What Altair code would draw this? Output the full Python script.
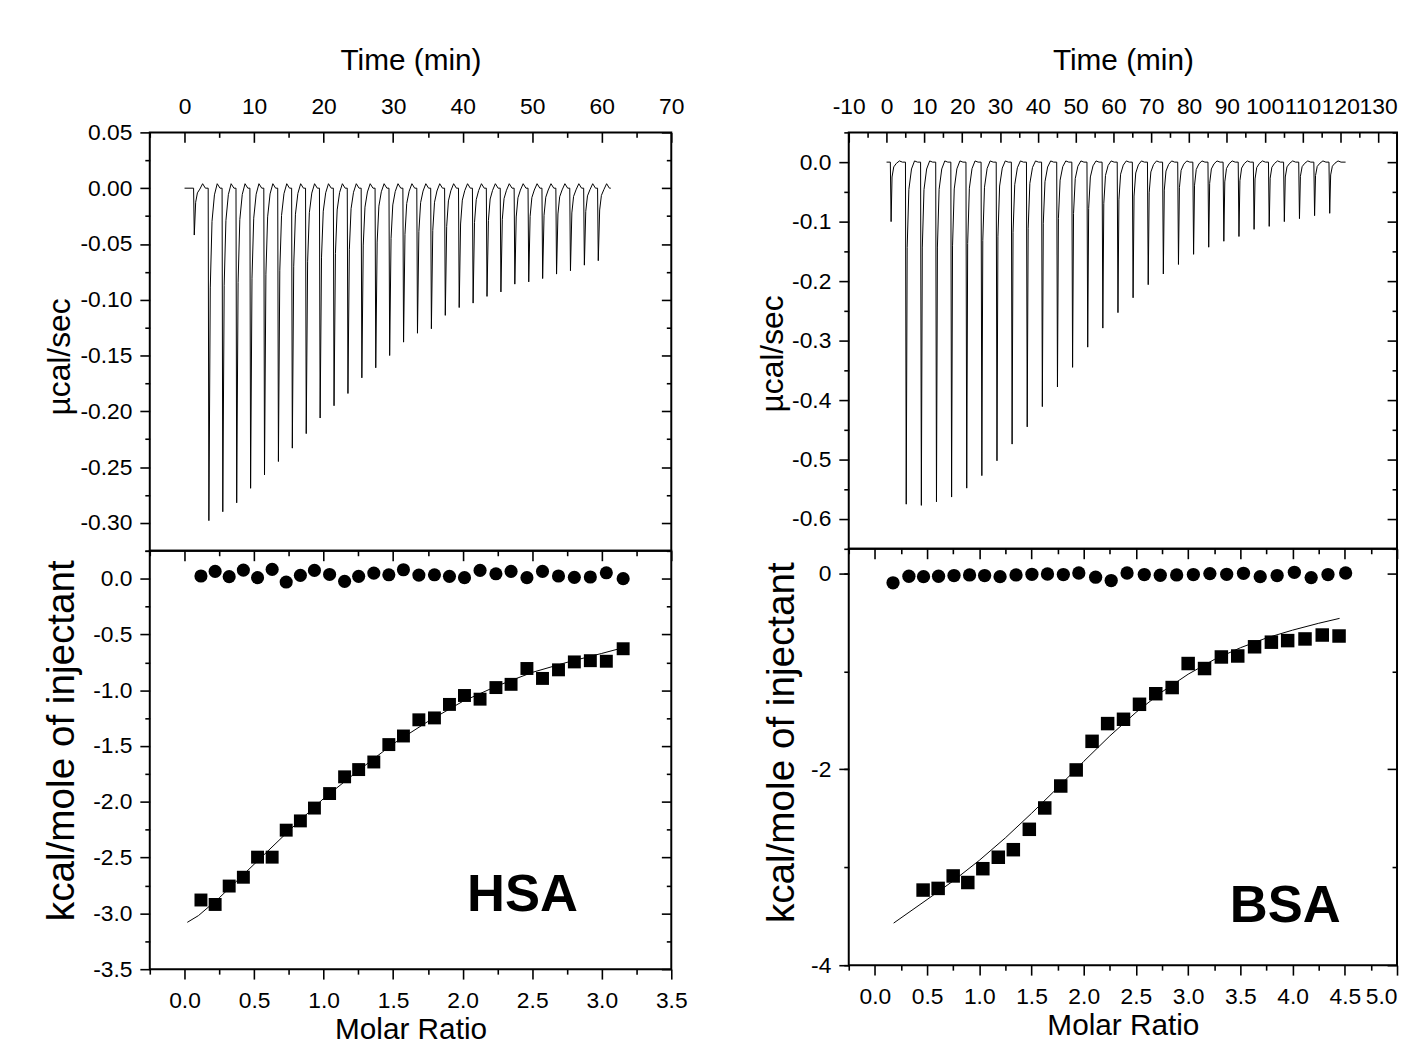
import altair as alt
import pandas as pd

FONT = "Liberation Sans"
MINUS = "\u2212"

# ---------------- data ----------------
# HSA raw thermogram: injection times (min) and peak heights (ucal/sec)
hsa_inj_time = [1.3, 3.4, 5.4, 7.4, 9.4, 11.4, 13.4, 15.4, 17.4, 19.4, 21.4, 23.4, 25.4,
                27.4, 29.4, 31.4, 33.4, 35.4, 37.4, 39.4, 41.4, 43.4, 45.4, 47.4, 49.4,
                51.4, 53.4, 55.4, 57.4, 59.4]
hsa_peak = [-0.042, -0.298, -0.290, -0.282, -0.269, -0.257, -0.245, -0.233, -0.220, -0.206,
            -0.195, -0.184, -0.170, -0.161, -0.150, -0.138, -0.130, -0.126, -0.114, -0.107,
            -0.103, -0.097, -0.093, -0.086, -0.084, -0.081, -0.077, -0.074, -0.069, -0.065]
hsa_trace_start, hsa_trace_end, hsa_overshoot = 0.0, 61.3, 0.004

# BSA raw thermogram
bsa_inj_time = [1.0, 5.0, 9.0, 13.0, 17.0, 21.0, 25.0, 29.0, 33.0, 37.0, 41.0, 45.0, 49.0,
                53.0, 57.0, 61.0, 65.0, 69.0, 73.0, 77.0, 81.0, 85.0, 89.0, 93.0, 97.0,
                101.0, 105.0, 109.0, 113.0, 117.0]
bsa_peak = [-0.100, -0.575, -0.577, -0.571, -0.563, -0.548, -0.527, -0.502, -0.474, -0.445,
            -0.411, -0.378, -0.345, -0.311, -0.279, -0.253, -0.228, -0.206, -0.188, -0.172,
            -0.155, -0.143, -0.133, -0.125, -0.113, -0.108, -0.100, -0.095, -0.090, -0.086]
bsa_trace_start, bsa_trace_end, bsa_overshoot = 0.0, 121.4, 0.002

# HSA integrated heats
hsa_ratio = [0.118, 0.220, 0.321, 0.423, 0.525, 0.630, 0.731, 0.833, 0.934, 1.043, 1.151,
             1.252, 1.361, 1.469, 1.574, 1.685, 1.797, 1.905, 2.013, 2.125, 2.239, 2.348,
             2.462, 2.574, 2.689, 2.803, 2.918, 3.033, 3.154]
hsa_heat = [-2.880, -2.920, -2.755, -2.676, -2.496, -2.496, -2.254, -2.171, -2.056, -1.926,
            -1.776, -1.711, -1.643, -1.487, -1.410, -1.265, -1.248, -1.127, -1.047, -1.080,
            -0.976, -0.947, -0.805, -0.894, -0.817, -0.746, -0.735, -0.740, -0.628]
hsa_blank = [0.024, 0.065, 0.018, 0.077, 0.009, 0.083, -0.030, 0.030, 0.074, 0.038, -0.024,
             0.021, 0.050, 0.035, 0.080, 0.032, 0.035, 0.021, 0.009, 0.074, 0.044, 0.065,
             0.009, 0.065, 0.024, 0.012, 0.015, 0.053, 0.000]
hsa_fit_x = [0.02, 0.10, 0.25, 0.50, 0.75, 1.00, 1.25, 1.50, 1.75, 2.00, 2.25, 2.50, 2.75, 3.00, 3.15]
hsa_fit_y = [-3.08, -3.02, -2.86, -2.56, -2.26, -1.97, -1.72, -1.48, -1.28, -1.10, -0.96,
             -0.84, -0.75, -0.67, -0.62]

# BSA integrated heats
bsa_blank_ratio = [0.174, 0.326, 0.466, 0.610, 0.758, 0.907, 1.051, 1.199, 1.352, 1.504,
                   1.653, 1.805, 1.953, 2.114, 2.263, 2.415, 2.580, 2.733, 2.890, 3.050,
                   3.208, 3.369, 3.530, 3.690, 3.852, 4.017, 4.178, 4.339, 4.508]
bsa_blank = [-0.097, -0.030, -0.034, -0.030, -0.023, -0.017, -0.023, -0.034, -0.017, -0.010,
             -0.007, -0.013, 0.003, -0.040, -0.074, 0.003, -0.013, -0.020, -0.017, -0.013,
             -0.003, -0.010, 0.000, -0.034, -0.023, 0.010, -0.044, -0.013, 0.003]
bsa_ratio = [0.462, 0.606, 0.750, 0.890, 1.034, 1.182, 1.326, 1.479, 1.627, 1.780, 1.928,
             2.080, 2.229, 2.381, 2.534, 2.690, 2.847, 3.000, 3.157, 3.318, 3.475, 3.636,
             3.797, 3.953, 4.119, 4.284, 4.445]
bsa_heat = [-3.233, -3.216, -3.089, -3.156, -3.015, -2.898, -2.821, -2.613, -2.395, -2.171,
            -2.007, -1.715, -1.534, -1.490, -1.337, -1.229, -1.166, -0.921, -0.972, -0.854,
            -0.844, -0.750, -0.703, -0.687, -0.670, -0.630, -0.640]
bsa_fit_x = [0.18, 0.50, 0.75, 1.00, 1.25, 1.50, 1.75, 2.00, 2.25, 2.50, 2.75, 3.00, 3.25,
             3.50, 3.75, 4.00, 4.25, 4.45]
bsa_fit_y = [-3.57, -3.33, -3.14, -2.93, -2.70, -2.45, -2.19, -1.92, -1.66, -1.42, -1.21,
             -1.03, -0.88, -0.76, -0.66, -0.58, -0.51, -0.46]

# panel labels
hsa_label = {"x": [2.43], "y": [-2.84], "t": ["HSA"]}
bsa_label = {"x": [3.93], "y": [-3.40], "t": ["BSA"]}

# axis tick values
hsa_time_major = [0, 10, 20, 30, 40, 50, 60, 70]
hsa_time_minor = [-5, 5, 15, 25, 35, 45, 55, 65]
bsa_time_major = [-10, 0, 10, 20, 30, 40, 50, 60, 70, 80, 90, 100, 110, 120, 130]
bsa_time_minor = [-5, 5, 15, 25, 35, 45, 55, 65, 75, 85, 95, 105, 115, 125]
hsa_ratio_major = [0.0, 0.5, 1.0, 1.5, 2.0, 2.5, 3.0, 3.5]
hsa_ratio_minor = [-0.25, 0.25, 0.75, 1.25, 1.75, 2.25, 2.75, 3.25]
bsa_ratio_major = [0.0, 0.5, 1.0, 1.5, 2.0, 2.5, 3.0, 3.5, 4.0, 4.5, 5.0]
bsa_ratio_minor = [-0.25, 0.25, 0.75, 1.25, 1.75, 2.25, 2.75, 3.25, 3.75, 4.25, 4.75]
hsa_power_major = [0.05, 0.0, -0.05, -0.10, -0.15, -0.20, -0.25, -0.30]
hsa_power_minor = [0.025, -0.025, -0.075, -0.125, -0.175, -0.225, -0.275, -0.325]
bsa_power_major = [0.0, -0.1, -0.2, -0.3, -0.4, -0.5, -0.6]
bsa_power_minor = [0.05, -0.05, -0.15, -0.25, -0.35, -0.45, -0.55, -0.65]
hsa_heat_major = [0.0, -0.5, -1.0, -1.5, -2.0, -2.5, -3.0, -3.5]
hsa_heat_minor = [0.25, -0.25, -0.75, -1.25, -1.75, -2.25, -2.75, -3.25]
bsa_heat_major = [0, -2, -4]
bsa_heat_minor = [-1, -3]

# ---------------- helpers ----------------
def trace_frame(times, peaks, start, end, offs, fracs, over, over_t, end_t):
    xs, ys = [start], [0.0]
    for t, p in zip(times, peaks):
        for o, f in zip(offs, fracs):
            xs.append(t + o)
            ys.append(p * f)
        xs.append(t + over_t)
        ys.append(over)
        xs.append(t + end_t)
        ys.append(0.0)
    xs.append(end)
    ys.append(0.0)
    return pd.DataFrame({"x": xs, "y": ys, "i": list(range(len(xs)))})


def lab(fmt):
    return f"replace(format(datum.value, '{fmt}'), '{MINUS}', '-')"


def tick_axis(orient, values, size):
    # size > 0 : outward, size < 0 : inward
    return alt.Axis(orient=orient, values=values, labels=False, title=None, domain=False,
                    grid=False, ticks=True, tickSize=alt.ExprRef(expr=str(size)),
                    tickColor="black", tickWidth=1.6)


def label_axis(orient, values, fmt, title, tick, label_pad, title_pad, title_size,
               title_y=None, ticks=True, flush=False):
    kw = dict(orient=orient, values=values, labelExpr=lab(fmt), title=title, domain=False,
              grid=False, ticks=ticks, tickSize=tick, tickColor="black", tickWidth=1.6,
              labelPadding=label_pad, titlePadding=title_pad, labelFont=FONT,
              labelFontSize=23, labelColor="black", titleFont=FONT,
              titleFontSize=title_size, titleFontWeight="normal", titleColor="black",
              labelOverlap=False, labelFlush=flush, labelBound=False)
    if title_y is not None:
        kw["titleY"] = title_y
    return alt.Axis(**kw)


def panel(df, xdom, ydom, x_axes, y_axes, data_layers, w, h):
    xs = alt.Scale(domain=xdom, nice=False, zero=False)
    ys = alt.Scale(domain=ydom, nice=False, zero=False)
    layers = []
    for xa, ya in zip(x_axes, y_axes):
        layers.append(
            alt.Chart(df).mark_point(opacity=0).encode(
                x=alt.X("x:Q", scale=xs, axis=xa),
                y=alt.Y("y:Q", scale=ys, axis=ya),
            )
        )
    for ch in data_layers:
        layers.append(ch(xs, ys))
    return alt.layer(*layers).resolve_axis(x="independent", y="independent").properties(
        width=w, height=h)


def line_layer(df, width=1.0):
    def f(xs, ys):
        return alt.Chart(df).mark_line(color="black", strokeWidth=width).encode(
            x=alt.X("x:Q", scale=xs, axis=None),
            y=alt.Y("y:Q", scale=ys, axis=None),
            order="i:Q",
        )
    return f


def point_layer(df, shape, size):
    def f(xs, ys):
        return alt.Chart(df).mark_point(shape=shape, filled=True, size=size, color="black",
                                        opacity=1).encode(
            x=alt.X("x:Q", scale=xs, axis=None),
            y=alt.Y("y:Q", scale=ys, axis=None),
        )
    return f


def text_layer(df):
    def f(xs, ys):
        return alt.Chart(df).mark_text(font=FONT, fontSize=53, fontWeight="bold",
                                       color="black", align="center",
                                       baseline="middle").encode(
            x=alt.X("x:Q", scale=xs, axis=None),
            y=alt.Y("y:Q", scale=ys, axis=None),
            text="t:N",
        )
    return f


# ---------------- data frames ----------------
hsa_trace = trace_frame(hsa_inj_time, hsa_peak, hsa_trace_start, hsa_trace_end,
                        [0.0, 0.1, 0.3, 0.55, 0.9], [0.0, 1.0, 0.3, 0.1, 0.02],
                        hsa_overshoot, 1.3, 1.7)
bsa_trace = trace_frame(bsa_inj_time, bsa_peak, bsa_trace_start, bsa_trace_end,
                        [0.0, 0.2, 0.45, 0.9, 1.6], [0.0, 1.0, 0.25, 0.08, 0.02],
                        bsa_overshoot, 2.4, 3.2)
hsa_sq = pd.DataFrame({"x": hsa_ratio, "y": hsa_heat})
hsa_ci = pd.DataFrame({"x": hsa_ratio, "y": hsa_blank})
hsa_fit = pd.DataFrame({"x": hsa_fit_x, "y": hsa_fit_y, "i": list(range(len(hsa_fit_x)))})
bsa_sq = pd.DataFrame({"x": bsa_ratio, "y": bsa_heat})
bsa_ci = pd.DataFrame({"x": bsa_blank_ratio, "y": bsa_blank})
bsa_fit = pd.DataFrame({"x": bsa_fit_x, "y": bsa_fit_y, "i": list(range(len(bsa_fit_x)))})

LW, LH = 526, 422
RW, RH = 553, 420
TITLE_H = 30
TITLE_MU = 32
TITLE_K = 39

# ---------------- HSA top ----------------
hsa_top = panel(
    hsa_trace, [-5, 70], [-0.325, 0.05],
    [label_axis("top", hsa_time_major, "d", "Time (min)", 0, 14, 20, TITLE_H, ticks=False),
     tick_axis("top", hsa_time_major, -10),
     tick_axis("top", hsa_time_minor, -5),
     None],
    [label_axis("left", hsa_power_major, ".2f", "µcal/sec", 10, 8, 4, TITLE_MU, title_y=226),
     tick_axis("left", hsa_power_minor, 5),
     tick_axis("right", hsa_power_major, -10),
     tick_axis("right", hsa_power_minor, -5)],
    [line_layer(hsa_trace, 1.0)], LW, LH)

hsa_low = panel(
    hsa_sq, [-0.25, 3.5], [-3.5, 0.25],
    [label_axis("bottom", hsa_ratio_major, ".1f", "Molar Ratio", 10, 11, 2, TITLE_H),
     tick_axis("bottom", hsa_ratio_minor, 5),
     tick_axis("top", hsa_ratio_major, -10),
     tick_axis("top", hsa_ratio_minor, -5)],
    [label_axis("left", hsa_heat_major, ".1f", "kcal/mole of injectant", 10, 8, 11, TITLE_K,
                title_y=191),
     tick_axis("left", hsa_heat_minor, 5),
     tick_axis("right", hsa_heat_major, -10),
     tick_axis("right", hsa_heat_minor, -5)],
    [line_layer(hsa_fit, 1.0), point_layer(hsa_sq, "square", 170),
     point_layer(hsa_ci, "circle", 175), text_layer(pd.DataFrame(hsa_label))], LW, LH)

# ---------------- BSA top ----------------
bsa_top = panel(
    bsa_trace, [-10, 135], [-0.65, 0.05],
    [label_axis("top", bsa_time_major, "d", "Time (min)", 0, 14, 20, TITLE_H, ticks=False),
     tick_axis("top", bsa_time_major, -10),
     tick_axis("top", bsa_time_minor, -5),
     None],
    [label_axis("left", bsa_power_major, ".1f", "µcal/sec", 10, 8, 2, TITLE_MU, title_y=223),
     tick_axis("left", bsa_power_minor, 5),
     tick_axis("right", bsa_power_major, -10),
     tick_axis("right", bsa_power_minor, -5)],
    [line_layer(bsa_trace, 1.0)], RW, RH)

bsa_low = panel(
    bsa_sq, [-0.25, 5.0], [-4.0, 0.25],
    [label_axis("bottom", bsa_ratio_major, ".1f", "Molar Ratio", 10, 11, 2, TITLE_H,
                flush=True),
     tick_axis("bottom", bsa_ratio_minor, 5),
     tick_axis("top", bsa_ratio_major, -10),
     tick_axis("top", bsa_ratio_minor, -5)],
    [label_axis("left", bsa_heat_major, "d", "kcal/mole of injectant", 10, 8, 9, TITLE_K,
                title_y=195),
     tick_axis("left", bsa_heat_major + bsa_heat_minor, 5),
     tick_axis("right", bsa_heat_major, -10),
     tick_axis("right", bsa_heat_minor, -5)],
    [line_layer(bsa_fit, 1.0), point_layer(bsa_sq, "square", 185),
     point_layer(bsa_ci, "circle", 180), text_layer(pd.DataFrame(bsa_label))], RW, RH)

left = alt.vconcat(hsa_top, hsa_low, spacing=0, bounds="flush")
right = alt.vconcat(bsa_top, bsa_low, spacing=0, bounds="flush")

chart = alt.hconcat(left, right, spacing=68).properties(
    padding={"left": 34, "top": 33, "right": 0, "bottom": -6},
    background="white",
).configure_view(stroke="black", strokeWidth=2)

chart.save("out.html", embed_options={"renderer": "svg", "actions": False})
